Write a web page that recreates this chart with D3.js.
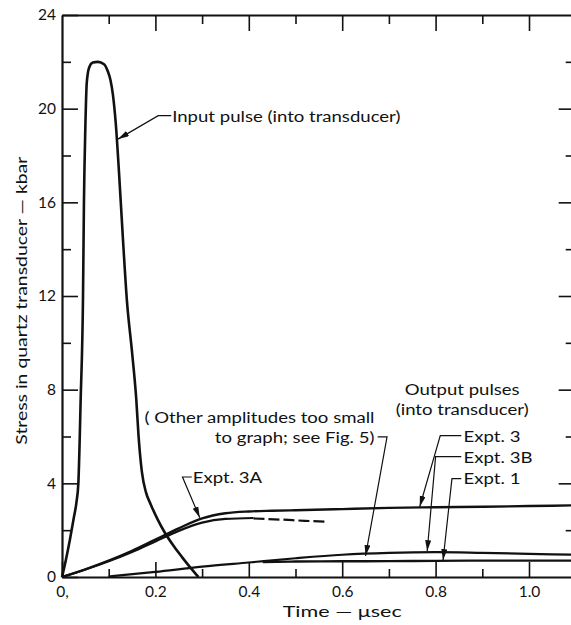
<!DOCTYPE html>
<html>
<head>
<meta charset="utf-8">
<script src="https://cdn.jsdelivr.net/npm/d3@7"></script>
<style>
  body { margin: 0; background: #fff; }
  text { font-family: Lato, "DejaVu Sans", sans-serif; fill: #111; }
</style>
</head>
<body>
<div id="chart"></div>
<script>
// input pulse (time in usec, stress in kbar)
const inputT = [0, 0.008, 0.017, 0.025, 0.031, 0.035, 0.040, 0.045, 0.047, 0.050, 0.053, 0.058, 0.066, 0.077, 0.090, 0.098, 0.104, 0.109, 0.115, 0.122, 0.130, 0.139, 0.150, 0.159, 0.164, 0.171, 0.180, 0.190, 0.205, 0.220, 0.240, 0.257, 0.275, 0.292]
const inputV = [0, 0.7, 1.6, 2.5, 3.2, 4.0, 7.6, 12.0, 16.0, 19.2, 21.1, 21.75, 21.97, 22.0, 21.9, 21.6, 21.2, 20.6, 19.4, 17.3, 14.6, 11.8, 9.6, 7.6, 6.0, 4.5, 3.6, 3.1, 2.45, 1.9, 1.3, 0.85, 0.4, 0]

// output pulses
const expt3T = [0, 0.05, 0.1, 0.15, 0.2, 0.25, 0.3, 0.35, 0.4, 0.45, 0.5, 0.6, 0.7, 0.8, 0.9, 1.0, 1.1]
const expt3V = [0, 0.33, 0.7, 1.12, 1.6, 2.08, 2.5, 2.72, 2.8, 2.83, 2.85, 2.9, 2.95, 2.98, 3.0, 3.03, 3.06]
const expt3aT = [0, 0.05, 0.1, 0.15, 0.2, 0.25, 0.3, 0.35, 0.41]
const expt3aV = [0, 0.32, 0.67, 1.07, 1.52, 1.97, 2.32, 2.48, 2.52]
const expt3aDashT = [0.41, 0.47, 0.52, 0.57]
const expt3aDashV = [2.5, 2.45, 2.4, 2.36]
const expt3bT = [0.1, 0.2, 0.3, 0.4, 0.5, 0.6, 0.7, 0.8, 0.9, 1.0, 1.1]
const expt3bV = [0.02, 0.22, 0.44, 0.62, 0.8, 0.95, 1.03, 1.06, 1.03, 0.99, 0.95]
const expt1T = [0.43, 0.5, 0.6, 0.7, 0.8, 0.9, 1.0, 1.1]
const expt1V = [0.64, 0.66, 0.67, 0.68, 0.69, 0.7, 0.7, 0.7]

// ticks
const xMajor = [0, 0.2, 0.4, 0.6, 0.8, 1.0]
const xMinor = [0.1, 0.3, 0.5, 0.7, 0.9]
const yMajor = [0, 4, 8, 12, 16, 20, 24]
const yMinor = [2, 6, 10, 14, 18, 22]

const width = 571, height = 625
const svg = d3.select("#chart").append("svg")
  .attr("width", width).attr("height", height)

const x = d3.scaleLinear().domain([0, 1.1]).range([62, 575.7])
const y = d3.scaleLinear().domain([0, 24]).range([577, 15])

svg.append("defs").append("marker")
  .attr("id", "arr")
  .attr("markerUnits", "userSpaceOnUse")
  .attr("markerWidth", 12).attr("markerHeight", 8)
  .attr("refX", 11).attr("refY", 3)
  .attr("orient", "auto")
  .append("path").attr("d", "M0,0 L11,3 L0,6 Z").attr("fill", "#111")

function styleAxis(g, w) {
  g.select(".domain").attr("stroke", "#111").attr("stroke-width", w)
  g.selectAll(".tick line").attr("stroke", "#111").attr("stroke-width", 1.6)
  g.selectAll("text").attr("font-size", 15.5).attr("fill", "#111")
    .style("font-family", "Lato, 'DejaVu Sans', sans-serif")
}

// bottom axis
svg.append("g").attr("transform", `translate(0,${y(0)})`)
  .call(d3.axisBottom(x).tickValues(xMajor).tickSizeInner(-15).tickSizeOuter(0).tickPadding(9)
    .tickFormat(d => d === 0 ? "0," : d3.format(".1f")(d)))
  .call(g => styleAxis(g, 2.2))
svg.append("g").attr("transform", `translate(0,${y(0)})`)
  .call(d3.axisBottom(x).tickValues(xMinor).tickSizeInner(-8).tickSizeOuter(0).tickFormat(""))
  .call(g => styleAxis(g, 0))
// top axis
svg.append("g").attr("transform", `translate(0,${y(24)})`)
  .call(d3.axisTop(x).tickValues(xMajor.slice(1)).tickSizeInner(-16).tickSizeOuter(0).tickFormat(""))
  .call(g => styleAxis(g, 2))
svg.append("g").attr("transform", `translate(0,${y(24)})`)
  .call(d3.axisTop(x).tickValues(xMinor).tickSizeInner(-9).tickSizeOuter(0).tickFormat(""))
  .call(g => styleAxis(g, 0))
// left axis
svg.append("g").attr("transform", `translate(${x(0)},0)`)
  .call(d3.axisLeft(y).tickValues(yMajor).tickSizeInner(-16).tickSizeOuter(0).tickPadding(6))
  .call(g => styleAxis(g, 2.2))
svg.append("g").attr("transform", `translate(${x(0)},0)`)
  .call(d3.axisLeft(y).tickValues(yMinor).tickSizeInner(-9).tickSizeOuter(0).tickFormat(""))
  .call(g => styleAxis(g, 0))
// right axis, its line falls just past the page edge
svg.append("g").attr("transform", `translate(${x(1.1)},0)`)
  .call(d3.axisRight(y).tickValues(yMajor.slice(1, -1)).tickSizeInner(-17).tickSizeOuter(0).tickFormat(""))
  .call(g => styleAxis(g, 2))
svg.append("g").attr("transform", `translate(${x(1.1)},0)`)
  .call(d3.axisRight(y).tickValues(yMinor).tickSizeInner(-10).tickSizeOuter(0).tickFormat(""))
  .call(g => styleAxis(g, 0))

// curves
const line = d3.line().x(d => x(d[0])).y(d => y(d[1])).curve(d3.curveMonotoneX)
const series = [
  { t: inputT, v: inputV, w: 2.6 },
  { t: expt3T, v: expt3V, w: 2.4 },
  { t: expt3aT, v: expt3aV, w: 2.2 },
  { t: expt3aDashT, v: expt3aDashV, w: 2.2, dash: "11,4" },
  { t: expt3bT, v: expt3bV, w: 2.2 },
  { t: expt1T, v: expt1V, w: 2.4 }
]
svg.append("g").selectAll("path")
  .data(series)
  .join("path")
  .attr("d", s => line(d3.zip(s.t, s.v)))
  .attr("fill", "none")
  .attr("stroke", "#111")
  .attr("stroke-width", s => s.w)
  .attr("stroke-dasharray", s => s.dash || null)

// annotations: text [t, v] positions, leader points in data units
const notes = [
  { lines: ["Input pulse (into transducer)"], at: [0.236, 19.65], leader: [[0.234, 19.7], [0.206, 19.7], [0.12, 18.7]] },
  { lines: ["Expt. 3A"], at: [0.28, 4.22], leader: [[0.278, 4.27], [0.258, 4.27], [0.295, 2.53]] },
  { lines: ["( Other amplitudes too small", "to graph; see Fig. 5)"], at: [0.669, 6.8], anchor: "end", leader: [[0.676, 5.98], [0.696, 5.98], [0.65, 0.9]] },
  { lines: ["Output pulses", "(into transducer)"], at: [0.857, 8.0], anchor: "middle" },
  { lines: ["Expt. 3"], at: [0.86, 6.0], leader: [[0.855, 6.04], [0.81, 6.04], [0.766, 3.0]] },
  { lines: ["Expt. 3B"], at: [0.86, 5.1], leader: [[0.855, 5.14], [0.80, 5.14], [0.782, 1.1]] },
  { lines: ["Expt. 1"], at: [0.86, 4.17], leader: [[0.855, 4.2], [0.835, 4.2], [0.816, 0.72]] }
]
const stretch = 1.28
const ann = svg.append("g")
notes.forEach(n => {
  n.lines.forEach((s, i) => {
    const t = ann.append("text")
      .attr("x", x(n.at[0]))
      .attr("y", y(n.at[1]) + i * 20)
      .attr("dy", "0.35em")
      .attr("text-anchor", n.anchor || "start")
      .attr("font-size", 14.5)
      .text(s)
    t.attr("textLength", t.node().getComputedTextLength() * stretch)
      .attr("lengthAdjust", "spacingAndGlyphs")
  })
  if (n.leader) {
    ann.append("path")
      .attr("d", d3.line().x(d => x(d[0])).y(d => y(d[1]))(n.leader))
      .attr("fill", "none").attr("stroke", "#111").attr("stroke-width", 1.2)
      .attr("marker-end", "url(#arr)")
  }
})

// axis titles
svg.append("text")
  .attr("transform", `translate(22,${y(11.8)}) rotate(-90)`)
  .attr("text-anchor", "middle").attr("dy", "0.35em")
  .attr("font-size", 15)
  .attr("textLength", 288).attr("lengthAdjust", "spacingAndGlyphs")
  .text("Stress in quartz transducer — kbar")
svg.append("text")
  .attr("x", x(0.6)).attr("y", 612)
  .attr("text-anchor", "middle").attr("dy", "0.35em")
  .attr("font-size", 15)
  .attr("textLength", 119).attr("lengthAdjust", "spacingAndGlyphs")
  .text("Time — μsec")
</script>
</body>
</html>
